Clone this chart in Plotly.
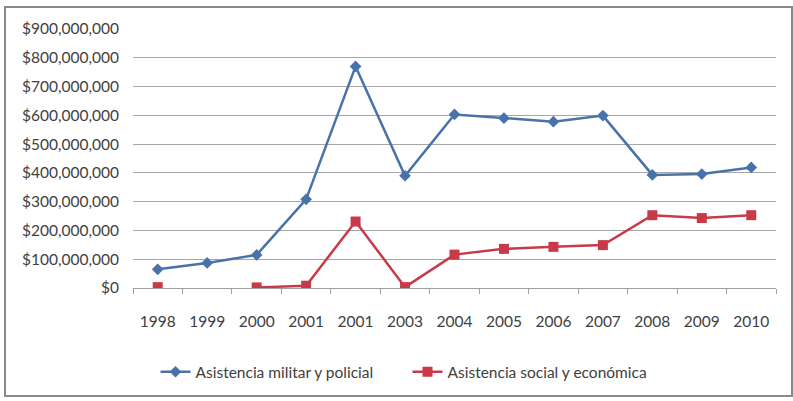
import plotly.graph_objects as go

years = ["1998", "1999", "2000", "2001", "2001", "2003", "2004", "2005", "2006", "2007", "2008", "2009", "2010"]
militar = [65e6, 87e6, 115e6, 308e6, 770e6, 390e6, 603e6, 590e6, 578e6, 599e6, 393e6, 396e6, 419e6]
social = [3e6, None, 2e6, 8e6, 231e6, 3e6, 116e6, 136e6, 143e6, 149e6, 253e6, 243e6, 253e6]
names = ["Asistencia militar y policial", "Asistencia social y económica"]
y_ticks = [0, 100e6, 200e6, 300e6, 400e6, 500e6, 600e6, 700e6, 800e6, 900e6]

idx = list(range(len(years)))
FONT = "Lato, 'Open Sans', sans-serif"

fig = go.Figure()
fig.add_trace(go.Scatter(x=idx, y=militar, name=names[0], mode="lines+markers",
                         line=dict(color="#4a72aa", width=2.5),
                         marker=dict(symbol="diamond", size=9, color="#4a72aa")))
fig.add_trace(go.Scatter(x=idx, y=social, name=names[1], mode="lines+markers",
                         connectgaps=False,
                         line=dict(color="#c83a48", width=2.5),
                         marker=dict(symbol="square", size=10, color="#c83a48")))

fig.update_layout(
    width=793, height=401,
    margin=dict(l=133, r=17, t=29, b=113),
    paper_bgcolor="white", plot_bgcolor="white",
    font=dict(family=FONT, size=15, color="#404040"),
    showlegend=True,
    legend=dict(orientation="h", x=0.035, xanchor="left", y=-0.325, yanchor="middle",
                entrywidth=207, entrywidthmode="pixels",
                font=dict(size=15.5, color="#404040")),
    xaxis=dict(range=[-0.5, len(years) - 0.5], tickmode="array", tickvals=idx, ticktext=years,
               showgrid=False, zeroline=False, showline=False, ticks="",
               minor=dict(ticks="outside", ticklen=5, tick0=-0.5, dtick=1, tickcolor="#a0a0a0", showgrid=False),
               tickfont=dict(size=15.5), ticklabelstandoff=22, fixedrange=True),
    yaxis=dict(range=[0, 900e6], tickmode="array", tickvals=y_ticks, tickformat="$,.0f",
               showgrid=True, gridcolor="#a6a6a6", gridwidth=1,
               zeroline=True, zerolinecolor="#a0a0a0", zerolinewidth=1,
               showline=False, ticks="", ticklabelstandoff=13, tickfont=dict(size=15.5)),
)
fig.add_shape(type="rect", xref="paper", yref="paper",
              x0=(5 - 133) / 643, x1=(792 - 133) / 643,
              y0=-(396 - 288) / 259, y1=(288 - 7) / 259,
              line=dict(color="#8a8a8a", width=2), fillcolor="rgba(0,0,0,0)")
fig.write_html("out.html")
